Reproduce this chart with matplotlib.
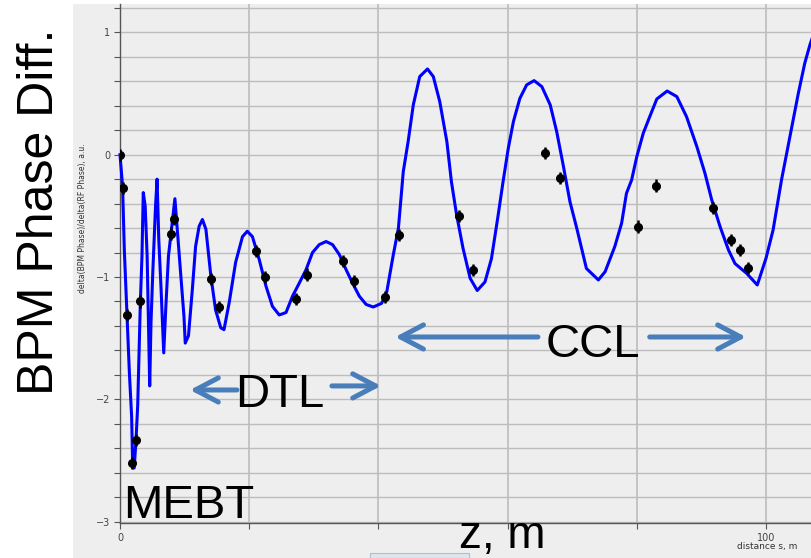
import matplotlib
matplotlib.use("Agg")
import matplotlib.pyplot as plt
from matplotlib.patches import Rectangle
from matplotlib.ticker import MultipleLocator, FixedLocator, FixedFormatter

# ---- data ----
curve_x = [0, 0.4, 0.67, 1.09, 1.45, 1.8, 1.97, 2.2, 2.48, 2.74,
           3.15, 3.4, 3.6, 3.9, 4.2, 4.4, 4.6, 4.8, 5.07, 5.5,
           5.74, 6.0, 6.36, 6.77, 7.1, 7.5, 7.9, 8.2, 8.5, 8.9,
           9.46, 9.9, 10.1, 10.6, 11.2, 11.7, 12.25, 12.76, 13.3, 14.06,
           14.8, 15.6, 16.1, 16.9, 17.9, 18.96, 19.7, 20.5, 21.55, 22.6,
           23.6, 24.65, 25.7, 26.7, 27.75, 28.8, 29.8, 30.85, 31.9, 32.9,
           33.95, 35.0, 36.0, 37.05, 38.1, 39.2,
           40.5, 41.3, 42.3, 43.1, 43.85, 44.6, 45.4, 46.4, 47.6, 48.5,
           49.5, 50.6, 51.3, 52.1, 53.1, 54.2, 55.3, 56.5, 57.5, 58.55,
           59.3, 60.1, 60.9, 61.9, 62.95, 64.1, 65.3, 66.6, 67.6, 68.6,
           69.65, 70.7, 72.2, 74.05, 75.1, 76.6, 77.65, 78.4, 79.2, 80.0,
           81.0, 82.0, 83.1, 84.7, 86.2, 87.7, 89.3, 90.55, 91.6, 92.9,
           94.2, 95.2, 97.0, 98.65, 100.0, 101.1, 102.4, 103.7, 105.0, 106.0,
           106.8, 107.6]
curve_y = [0, -0.26, -0.78, -1.32, -1.78, -2.14, -2.56, -2.56, -2.33, -2.05,
           -1.21, -0.83, -0.31, -0.42, -0.83, -1.37, -1.89, -1.37, -0.97, -0.42,
           -0.2, -0.69, -1.1, -1.62, -1.24, -0.83, -0.64, -0.5, -0.36, -0.64,
           -1.02, -1.32, -1.54, -1.48, -1.1, -0.75, -0.585, -0.53, -0.61, -0.99,
           -1.27, -1.415, -1.43, -1.21, -0.88, -0.67, -0.626, -0.67, -0.857, -1.075,
           -1.24, -1.31, -1.29, -1.157, -1.05, -0.94, -0.80, -0.735, -0.71, -0.735,
           -0.816, -0.94, -1.05, -1.157, -1.224, -1.245,
           -1.215, -1.12, -0.82, -0.60, -0.139, 0.106, 0.406, 0.638, 0.70, 0.638,
           0.433, 0.106, -0.22, -0.49, -0.765, -1.01, -1.11, -1.04, -0.85, -0.49,
           -0.22, 0.05, 0.27, 0.46, 0.57, 0.605, 0.556, 0.406, 0.188, -0.084,
           -0.384, -0.60, -0.93, -1.024, -0.956, -0.75, -0.56, -0.316, -0.207, -0.016,
           0.175, 0.31, 0.455, 0.52, 0.474, 0.31, 0.065, -0.152, -0.37, -0.59,
           -0.78, -0.89, -0.97, -1.065, -0.847, -0.615, -0.207, 0.147, 0.50, 0.747,
           0.897, 1.02]

bpm_x = [0.0, 0.4, 1.07, 1.86, 2.53, 3.15, 7.9, 8.4, 14.06, 15.25, 21.1, 22.4,
         27.2, 28.9, 34.5, 36.3, 41.0, 43.2, 52.5, 54.6, 65.8, 68.1, 80.2, 82.9,
         91.85, 94.6, 95.9, 97.2]
bpm_y = [0.0, -0.27, -1.31, -2.52, -2.33, -1.2, -0.645, -0.525, -1.015, -1.245,
         -0.79, -1.0, -1.18, -0.98, -0.87, -1.03, -1.165, -0.656, -0.50, -0.945,
         0.016, -0.193, -0.588, -0.253, -0.438, -0.697, -0.779, -0.929]
bpm_err = 0.05

y_ticks = [-3, -2, -1, 0, 1]
x_ticks = [0, 20, 40, 60, 80, 100]
x_tick_labels = ["0", "", "", "", "", "100"]

W, H = 812, 558
fig = plt.figure(figsize=(W / 100, H / 100), dpi=100)
fig.patch.set_facecolor("white")
fig.add_artist(Rectangle((73 / W, 0), 1 - 73 / W, 1 - 4 / H, transform=fig.transFigure,
                         facecolor="#eeeeee", edgecolor="none", zorder=0))
fig.add_artist(Rectangle((370 / W, 0), 99 / W, 5 / H, transform=fig.transFigure,
                         facecolor="#dfe5ec", edgecolor="#b5bfca", lw=0.8, zorder=1))

ax = fig.add_axes([120 / W, 1 - 523 / H, 1 - 120 / W, (523 - 4) / H])
ax.set_facecolor("#eeeeee")
ax.set_xlim(0, (W - 120) / 6.46)
ax.set_ylim(-3.01, 1.231)

ax.yaxis.set_major_locator(FixedLocator(y_ticks))
ax.yaxis.set_minor_locator(MultipleLocator(0.2))
ax.xaxis.set_major_locator(FixedLocator(x_ticks))
ax.xaxis.set_major_formatter(FixedFormatter(x_tick_labels))
ax.grid(True, which="both", axis="y", color="#bdbdbd", lw=1.0)
ax.grid(True, which="major", axis="x", color="#c0c0c0", lw=1.3)
ax.set_axisbelow(True)
for s in ["top", "right"]:
    ax.spines[s].set_visible(False)
for s in ["left", "bottom"]:
    ax.spines[s].set_color("#555555")
    ax.spines[s].set_linewidth(1.0)
ax.tick_params(axis="both", which="both", direction="out", length=4, width=0.8,
               color="#555555", labelsize=7, labelcolor="#444444", pad=3)

ax.plot(curve_x, curve_y, color="#0000ff", lw=2.2, zorder=3, clip_on=False)
ax.errorbar(bpm_x, bpm_y, yerr=bpm_err, fmt="o", color="black", ms=5.5, elinewidth=1.8,
            capsize=0, zorder=4)

big = dict(family=["Liberation Sans", "DejaVu Sans"], color="black")
ax.text(0.5, -2.97, "MEBT", fontsize=34, va="baseline", ha="left", **big)
ax.text(17.8, -2.062, "DTL", fontsize=34, va="baseline", ha="left", **big)
ax.text(65.9, -1.653, "CCL", fontsize=34, va="baseline", ha="left", **big)

arrow_col = "#4a7ebb"
arrows = [((18.1, -1.923), (10.84, -1.923)),
          ((32.8, -1.89), (40.4, -1.89)),
          ((64.7, -1.49), (42.6, -1.49)),
          ((82.0, -1.49), (96.9, -1.49))]
for tail, tip in arrows:
    ax.annotate("", xy=tip, xytext=tail,
                arrowprops=dict(arrowstyle="->,head_length=0.55,head_width=0.29",
                                lw=3.6, color=arrow_col, shrinkA=0, shrinkB=0,
                                mutation_scale=30, capstyle="round", joinstyle="round"))

fig.text(40 / W, 1 - 212 / H, "BPM Phase Diff.", rotation=90, fontsize=36,
         ha="center", va="center", **big)
fig.text(83 / W, 1 - 218 / H, "delta(BPM Phase)/delta(RF Phase), a.u.", rotation=90,
         fontsize=5.5, ha="center", va="center", color="#333333")
fig.text(459 / W, 10 / H, "z, m", fontsize=33, ha="left", va="baseline", **big)
fig.text(767 / W, 1 - 547 / H, "distance s, m", fontsize=6.5, ha="center", va="center",
         color="#333333")

fig.savefig("out.png", dpi=100)
